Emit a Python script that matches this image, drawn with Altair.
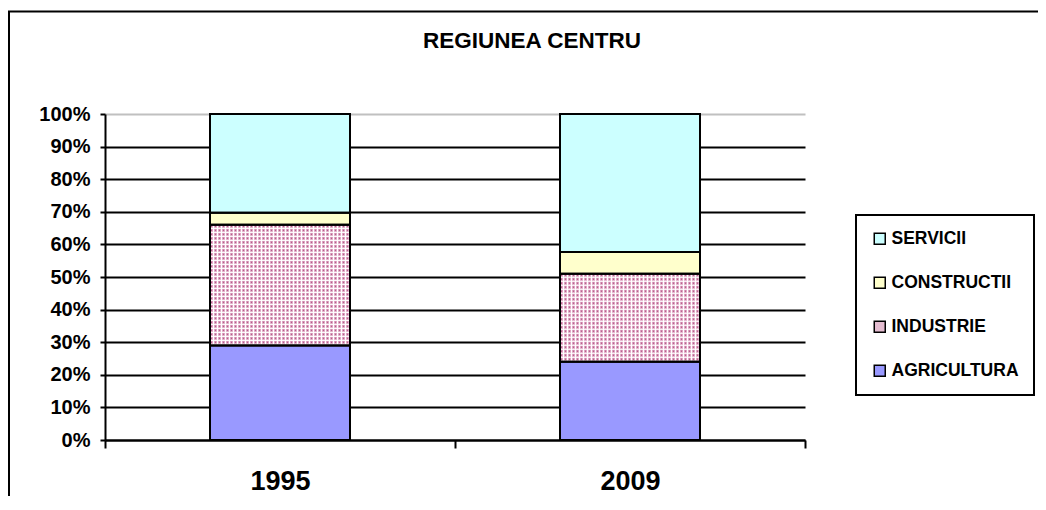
import base64
import altair as alt
import pandas as pd

years = ["1995", "2009"]
sectors = ["AGRICULTURA", "INDUSTRIE", "CONSTRUCTII", "SERVICII"]
values_1995 = [29.0, 37.0, 3.7, 30.3]
values_2009 = [24.0, 27.0, 6.7, 42.3]
legend_order = ["SERVICII", "CONSTRUCTII", "INDUSTRIE", "AGRICULTURA"]
legend_colors = ["#CCFFFF", "#FFFFCC", "#E4BCD0", "#9999FF"]
y_ticks = [0, 0.1, 0.2, 0.3, 0.4, 0.5, 0.6, 0.7, 0.8, 0.9, 1.0]
chart_title = "REGIUNEA CENTRU"

rows = []
for year, vals in zip(years, [values_1995, values_2009]):
    for i, (s, v) in enumerate(zip(sectors, vals)):
        rows.append({"year": year, "sector": s, "value": v, "idx": i})
df = pd.DataFrame(rows)

FONT = "Liberation Sans"

# dotted texture used for the INDUSTRIE segments
pattern_svg = (
    "<svg xmlns='http://www.w3.org/2000/svg' width='100%' height='100%'>"
    "<defs><pattern id='d' width='4' height='4' patternUnits='userSpaceOnUse'>"
    "<rect width='4' height='4' fill='#ffffff'/>"
    "<rect x='0' y='0' width='3' height='3' fill='#DFA6C4'/>"
    "<rect x='1' y='1' width='1' height='1' fill='#993366'/>"
    "</pattern></defs>"
    "<rect width='100%' height='100%' fill='url(#d)'/></svg>"
)
pattern_url = "data:image/svg+xml;base64," + base64.b64encode(pattern_svg.encode()).decode()

x_enc = alt.X(
    "year:N",
    scale=alt.Scale(paddingInner=0, paddingOuter=0),
    axis=alt.Axis(
        title=None, labelAngle=0, tickBand="extent", tickSize=8,
        labelPadding=20, labelFontSize=27, labelFont=FONT,
        labelFontWeight="bold", labelColor="black",
        domainColor="black", domainWidth=2, tickColor="black", tickWidth=2,
        grid=False,
    ),
)
y_enc = alt.Y(
    "y0:Q",
    scale=alt.Scale(domain=[0, 1], nice=False),
    axis=alt.Axis(
        title=None, format="%", values=y_ticks, tickSize=5, labelOverlap=False,
        labelPadding=10, labelFontSize=20, labelFont=FONT,
        labelFontWeight="bold", labelColor="black",
        domainColor="black", domainWidth=2, tickColor="black", tickWidth=2,
        grid=True, gridWidth=2,
        gridColor={"condition": {"test": "datum.value >= 0.999", "value": "#C0C0C0"}, "value": "black"},
    ),
)

base = alt.Chart(df).transform_stack(
    stack="value", groupby=["year"], as_=["y0", "y1"],
    sort=[alt.SortField("idx", order="ascending")], offset="normalize",
)

bars = base.mark_bar(width=alt.RelativeBandSize(0.4), strokeWidth=0).encode(
    x=x_enc,
    y=y_enc,
    y2="y1:Q",
    color=alt.Color(
        "sector:N",
        scale=alt.Scale(domain=legend_order, range=legend_colors),
        legend=alt.Legend(
            title=None, orient="none", legendX=751, legendY=101,
            padding=15, rowPadding=25, strokeColor="black", fillColor="white",
            symbolType="square", symbolSize=121, symbolStrokeColor="black",
            symbolStrokeWidth=1.5, symbolOpacity=1, labelOffset=3,
            labelFont=FONT, labelFontSize=17.5, labelFontWeight="bold", labelColor="black",
        ),
    ),
)

texture = base.transform_filter(alt.datum.sector == "INDUSTRIE").mark_image(
    width=alt.RelativeBandSize(0.4), aspect=False
).encode(
    x=x_enc,
    y=y_enc,
    y2="y1:Q",
    url=alt.value(pattern_url),
)

outline = base.mark_bar(
    width=alt.RelativeBandSize(0.4), fill="transparent", stroke="black", strokeWidth=2
).encode(
    x=x_enc,
    y=y_enc,
    y2="y1:Q",
)

deco = alt.Chart(pd.DataFrame({"t": [chart_title]}))

frame = deco.mark_rect(
    fill="transparent", stroke="black", strokeWidth=2
).encode(
    x=alt.value(-96), x2=alt.value(960), y=alt.value(-102.5), y2=alt.value(420)
)

title = deco.mark_text(
    font=FONT, fontSize=22.5, fontWeight="bold", color="black",
    align="center", baseline="alphabetic",
).encode(
    text="t:N", x=alt.value(427), y=alt.value(-66.5)
)

chart = alt.layer(bars, texture, outline, frame, title).properties(
    width=700,
    height=326,
    autosize=alt.AutoSizeParams(type="none"),
    padding={"left": 97, "top": 106, "right": 233, "bottom": 56},
).configure_view(
    stroke="transparent"
).configure_legend(
    strokeWidth=2
)

chart.save("out.html", embed_options={"renderer": "svg", "actions": False})
